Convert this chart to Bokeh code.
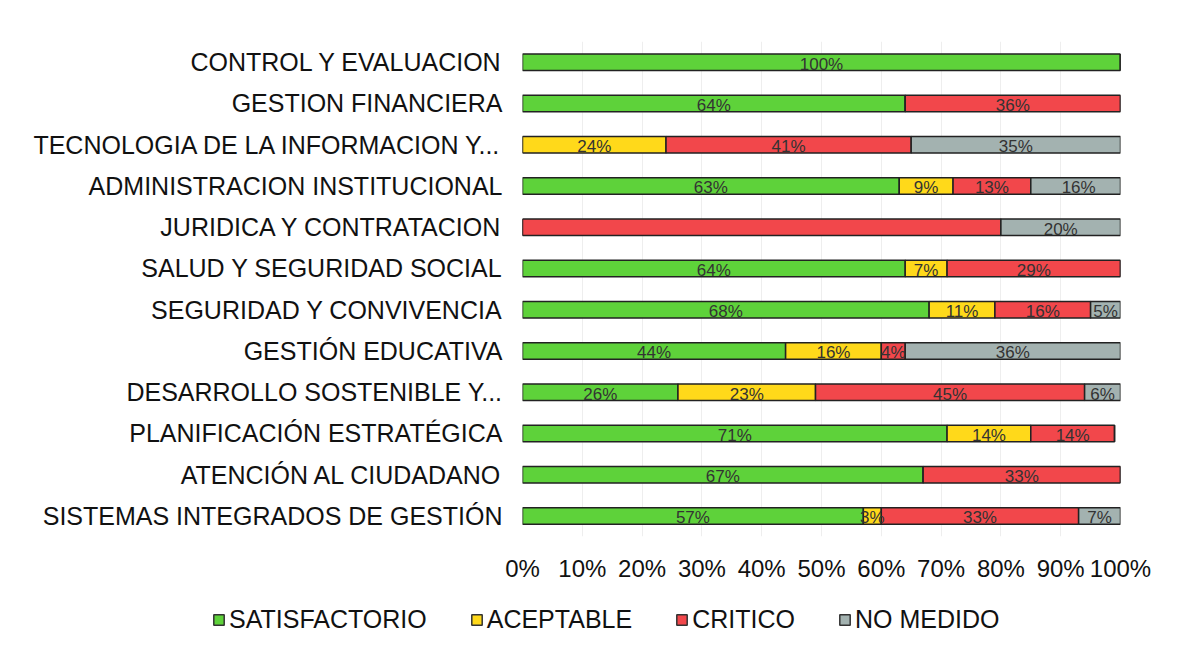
from bokeh.plotting import figure
from bokeh.models import ColumnDataSource, Legend, LegendItem, NumeralTickFormatter, FixedTicker, Range1d
from bokeh.layouts import column
from bokeh.core.properties import value
from bokeh.embed import file_html
from bokeh.resources import INLINE

categories = [
    "CONTROL Y EVALUACION",
    "GESTION FINANCIERA",
    "TECNOLOGIA DE LA INFORMACION Y...",
    "ADMINISTRACION INSTITUCIONAL",
    "JURIDICA Y CONTRATACION",
    "SALUD Y SEGURIDAD SOCIAL",
    "SEGURIDAD Y CONVIVENCIA",
    "GESTIÓN EDUCATIVA",
    "DESARROLLO SOSTENIBLE Y...",
    "PLANIFICACIÓN ESTRATÉGICA",
    "ATENCIÓN AL CIUDADANO",
    "SISTEMAS INTEGRADOS DE GESTIÓN",
]
satisfactorio = [100, 64, 0, 63, 0, 64, 68, 44, 26, 71, 67, 57]
aceptable     = [0, 0, 24, 9, 0, 7, 11, 16, 23, 14, 0, 3]
critico       = [0, 36, 41, 13, 80, 29, 16, 4, 45, 14, 33, 33]
no_medido     = [0, 0, 35, 16, 20, 0, 5, 36, 6, 0, 0, 7]
# the 80% critico segment of JURIDICA carries no label in the reference
critico_labelled = [True, True, True, True, False, True, True, True, True, True, True, True]

series = ["satisfactorio", "aceptable", "critico", "no_medido"]
series_names = ["SATISFACTORIO", "ACEPTABLE", "CRITICO", "NO MEDIDO"]
colors = ["#5ED23A", "#FFD91A", "#F2474B", "#A3B2B0"]
values = [satisfactorio, aceptable, critico, no_medido]

data = {"cat": categories}
for s, v in zip(series, values):
    data[s] = [x / 100 for x in v]
src = ColumnDataSource(data)

FONT = "Liberation Sans"

p = figure(width=1160, height=588, y_range=list(reversed(categories)), x_range=Range1d(0, 1),
           output_backend="svg", toolbar_location=None,
           min_border_left=522, min_border_right=40, min_border_top=41, min_border_bottom=52)
p.outline_line_color = None

p.hbar_stack(series, y="cat", height=0.4, source=src, color=colors,
             line_color="#222222", line_width=1.5)

# segment labels
lx, ly, lt = [], [], []
for i, cat in enumerate(categories):
    left = 0.0
    for s, v in zip(series, values):
        w = v[i] / 100
        show = critico_labelled[i] if s == "critico" else True
        if v[i] > 0 and show:
            lx.append(left + w / 2)
            ly.append(cat)
            lt.append(f"{v[i]}%")
        left += w
lsrc = ColumnDataSource(dict(x=lx, y=ly, t=lt))
p.text(x="x", y="y", text="t", source=lsrc, text_align="center", text_baseline="middle",
       text_font=value(FONT), text_font_size="17px", text_color="#333333", y_offset=2)

p.xaxis.ticker = FixedTicker(ticks=[i / 10 for i in range(11)])
p.xaxis.formatter = NumeralTickFormatter(format="0%")
for ax in (p.xaxis, p.yaxis):
    ax.axis_line_color = None
    ax.major_tick_line_color = None
    ax.minor_tick_line_color = None
    ax.major_tick_out = 0
    ax.major_tick_in = 0
    ax.major_label_text_font = FONT
    ax.major_label_text_color = "#111111"
p.yaxis.major_label_text_font_size = "25px"
p.xaxis.major_label_text_font_size = "24px"
p.yaxis.major_label_standoff = 20
p.xaxis.major_label_standoff = 18
p.ygrid.grid_line_color = None
p.xgrid.grid_line_color = "#EEEEEE"

# legend figure
lf = figure(width=1160, height=60, output_backend="svg", toolbar_location=None,
            x_range=Range1d(0, 1), y_range=Range1d(0, 1), min_border=0)
lf.frame_align = False
lf.outline_line_color = None
lf.axis.visible = False
lf.grid.visible = False
items = []
for name, c in zip(series_names, colors):
    r = lf.quad(left=[-5], right=[-4], bottom=[-5], top=[-4], fill_color=c,
                line_color="#333333", line_width=1.5)
    items.append(LegendItem(label=name, renderers=[r]))
leg = Legend(items=items, orientation="horizontal", location=(212, 14),
             label_text_font=FONT, label_text_font_size="25px", label_text_color="#111111",
             glyph_width=13, glyph_height=13, spacing=43, label_standoff=4,
             border_line_color=None, background_fill_alpha=0)
lf.add_layout(leg, "center")

layout = column(p, lf, spacing=0)
open("out.html", "w").write(file_html(layout, INLINE))
